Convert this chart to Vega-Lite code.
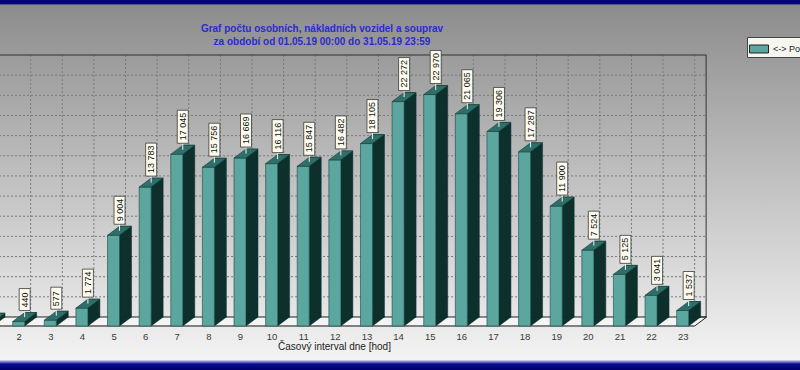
{
  "$schema": "https://vega.github.io/schema/vega-lite/v6.json",
  "width": 800,
  "height": 370,
  "autosize": "none",
  "padding": 0,
  "config": {
    "locale": {"number": {"decimal": ",", "thousands": " ", "grouping": [3], "currency": ["", " Kč"]}},
    "axisX": {
      "domain": false,
      "ticks": false,
      "grid": false,
      "labelOffset": -12,
      "offset": -41,
      "labelPadding": 2,
      "labelFlush": false,
      "labelOverlap": false,
      "labelFont": "Liberation Sans",
      "labelFontSize": 9.5,
      "labelColor": "#3a3a3a",
      "titleFont": "Liberation Sans",
      "titleFontSize": 10,
      "titleFontWeight": "normal",
      "titleColor": "#222222",
      "titlePadding": 1,
      "titleX": 334
    },
    "view": {
      "stroke": null,
      "fill": {
        "gradient": "linear", "x1": 0, "y1": 0, "x2": 0, "y2": 1,
        "stops": [
          {"offset": 0, "color": "#05057a"},
          {"offset": 0.011, "color": "#05057a"},
          {"offset": 0.013, "color": "#8a8a8e"},
          {"offset": 0.03, "color": "#8e8e8e"},
          {"offset": 0.5, "color": "#c2c2c2"},
          {"offset": 0.972, "color": "#f3f3f3"},
          {"offset": 0.977, "color": "#8c8cd8"},
          {"offset": 0.984, "color": "#0a0a8c"},
          {"offset": 1, "color": "#000070"}
        ]
      }
    }
  },
  "title": {
    "text": ["Graf počtu osobních, nákladních vozidel a souprav", "za období od 01.05.19 00:00 do 31.05.19 23:59"],
    "anchor": "middle",
    "frame": "group",
    "offset": -47,
    "dx": -78,
    "font": "Liberation Sans",
    "fontSize": 10,
    "fontWeight": "bold",
    "color": "#2b2bd0",
    "lineHeight": 13
  },
  "datasets": {
    "bars": [
      {"hour": 1, "v": 380},
      {"hour": 2, "v": 440},
      {"hour": 3, "v": 577},
      {"hour": 4, "v": 1774},
      {"hour": 5, "v": 9004},
      {"hour": 6, "v": 13783},
      {"hour": 7, "v": 17045},
      {"hour": 8, "v": 15756},
      {"hour": 9, "v": 16669},
      {"hour": 10, "v": 16116},
      {"hour": 11, "v": 15847},
      {"hour": 12, "v": 16482},
      {"hour": 13, "v": 18105},
      {"hour": 14, "v": 22272},
      {"hour": 15, "v": 22970},
      {"hour": 16, "v": 21065},
      {"hour": 17, "v": 19306},
      {"hour": 18, "v": 17287},
      {"hour": 19, "v": 11900},
      {"hour": 20, "v": 7524},
      {"hour": 21, "v": 5125},
      {"hour": 22, "v": 3041},
      {"hour": 23, "v": 1537}
    ],
    "grid": [
      {"g": 2000}, {"g": 4000}, {"g": 6000}, {"g": 8000}, {"g": 10000}, {"g": 12000},
      {"g": 14000}, {"g": 16000}, {"g": 18000}, {"g": 20000}, {"g": 22000}, {"g": 24000}
    ],
    "one": [{"k": 1}]
  },
  "data": {"name": "bars"},
  "layer": [
    {
      "data": {"name": "grid"},
      "mark": {"type": "rule", "stroke": "#7a7a7a", "strokeDash": [2, 2], "strokeWidth": 1},
      "encoding": {
        "x": {"datum": 1.0, "type": "quantitative", "axis": {"values": [1, 2, 3, 4, 5, 6, 7, 8, 9, 10, 11, 12, 13, 14, 15, 16, 17, 18, 19, 20, 21, 22, 23]}},
        "x2": {"datum": 23.362},
        "y": {"field": "g", "type": "quantitative", "axis": null, "scale": {"domain": [-5260, 31458], "nice": false, "zero": false}}
      }
    },
    {
      "mark": {"type": "rule", "stroke": "#7a7a7a", "strokeDash": [2, 2], "strokeWidth": 1},
      "encoding": {
        "x": {"field": "hour", "type": "quantitative", "axis": {"values": [1, 2, 3, 4, 5, 6, 7, 8, 9, 10, 11, 12, 13, 14, 15, 16, 17, 18, 19, 20, 21, 22, 23]}},
        "y": {"datum": 0, "type": "quantitative", "axis": null},
        "y2": {"datum": 26000}
      }
    },
    {
      "data": {"name": "one"},
      "mark": {"type": "rule", "stroke": "#333333", "strokeWidth": 1},
      "encoding": {
        "x": {"datum": 1.0, "type": "quantitative", "axis": {"values": [1, 2, 3, 4, 5, 6, 7, 8, 9, 10, 11, 12, 13, 14, 15, 16, 17, 18, 19, 20, 21, 22, 23]}},
        "x2": {"datum": 23.362},
        "y": {"datum": 26000, "type": "quantitative", "axis": null}
      }
    },
    {
      "data": {"name": "one"},
      "mark": {"type": "rule", "stroke": "#333333", "strokeWidth": 1},
      "encoding": {
        "x": {"datum": 23.362, "type": "quantitative", "axis": {"values": [1, 2, 3, 4, 5, 6, 7, 8, 9, 10, 11, 12, 13, 14, 15, 16, 17, 18, 19, 20, 21, 22, 23]}},
        "y": {"datum": 0, "type": "quantitative", "axis": null},
        "y2": {"datum": 26000}
      }
    },
    {
      "data": {"name": "one"},
      "mark": {"type": "rule", "stroke": "#f4f4f4", "strokeWidth": 9, "yOffset": 4.5, "strokeCap": "butt"},
      "encoding": {
        "x": {"datum": 1.0, "type": "quantitative", "axis": {"values": [1, 2, 3, 4, 5, 6, 7, 8, 9, 10, 11, 12, 13, 14, 15, 16, 17, 18, 19, 20, 21, 22, 23]}},
        "x2": {"datum": 23.0},
        "y": {"datum": 0, "type": "quantitative", "axis": null}
      }
    },
    {
      "data": {"name": "one"},
      "mark": {"type": "point", "shape": "M0,9L12,0L0,0", "size": 4, "filled": true, "fill": "#f4f4f4", "stroke": "#222222", "strokeWidth": 1, "opacity": 1},
      "encoding": {
        "x": {"datum": 23.0, "type": "quantitative", "axis": {"values": [1, 2, 3, 4, 5, 6, 7, 8, 9, 10, 11, 12, 13, 14, 15, 16, 17, 18, 19, 20, 21, 22, 23]}},
        "y": {"datum": 0, "type": "quantitative", "axis": null}
      }
    },
    {
      "data": {"name": "one"},
      "mark": {"type": "rule", "stroke": "#222222", "strokeWidth": 1},
      "encoding": {
        "x": {"datum": 1.0, "type": "quantitative", "axis": {"values": [1, 2, 3, 4, 5, 6, 7, 8, 9, 10, 11, 12, 13, 14, 15, 16, 17, 18, 19, 20, 21, 22, 23]}},
        "x2": {"datum": 23.362},
        "y": {"datum": 0, "type": "quantitative", "axis": null}
      }
    },
    {
      "data": {"name": "one"},
      "mark": {"type": "rule", "stroke": "#111111", "strokeWidth": 1, "yOffset": 9},
      "encoding": {
        "x": {"datum": 1.0, "type": "quantitative", "axis": {"values": [1, 2, 3, 4, 5, 6, 7, 8, 9, 10, 11, 12, 13, 14, 15, 16, 17, 18, 19, 20, 21, 22, 23]}},
        "x2": {"datum": 23.0},
        "y": {"datum": 0, "type": "quantitative", "axis": null}
      }
    },
    {
      "mark": {"type": "bar", "orient": "vertical", "size": 12, "fill": "#0d302c", "stroke": "#0d302c", "strokeWidth": 0.5},
      "encoding": {
        "x": {"field": "hour", "type": "quantitative", "axis": {"values": [1, 2, 3, 4, 5, 6, 7, 8, 9, 10, 11, 12, 13, 14, 15, 16, 17, 18, 19, 20, 21, 22, 23]}},
        "y": {"field": "v", "type": "quantitative", "axis": null},
        "y2": {"datum": 0}
      }
    },
    {
      "mark": {"type": "point", "shape": "M-6,0L-6,9L6,0Z", "size": 4, "filled": true, "fill": "#0d302c", "stroke": "#0d302c", "strokeWidth": 0.5, "opacity": 1},
      "encoding": {
        "x": {"field": "hour", "type": "quantitative", "axis": {"values": [1, 2, 3, 4, 5, 6, 7, 8, 9, 10, 11, 12, 13, 14, 15, 16, 17, 18, 19, 20, 21, 22, 23]}},
        "y": {"datum": 0, "type": "quantitative", "axis": null}
      }
    },
    {
      "mark": {"type": "bar", "orient": "vertical", "size": 12, "xOffset": -12, "yOffset": 9, "y2Offset": 9, "stroke": "#1a4541", "strokeWidth": 0.6},
      "encoding": {
        "x": {
          "field": "hour",
          "type": "quantitative",
          "title": "Časový interval dne [hod]",
          "scale": {"domain": [1.1883, 26.173], "nice": false, "zero": false},
          "axis": {"values": [1, 2, 3, 4, 5, 6, 7, 8, 9, 10, 11, 12, 13, 14, 15, 16, 17, 18, 19, 20, 21, 22, 23]}
        },
        "y": {"field": "v", "type": "quantitative", "axis": null},
        "y2": {"datum": 0},
        "color": {
          "datum": "<-> Počet vozidel",
          "scale": {"range": ["#5ba69f"]},
          "legend": {
            "orient": "none",
            "legendX": 747,
            "legendY": 37,
            "title": null,
            "fillColor": "#f6f6f1",
            "strokeColor": "#444444",
            "padding": 2,
            "symbolType": "M-1,-0.42H1V0.42H-1Z",
            "symbolSize": 361,
            "symbolStrokeColor": "#222222",
            "symbolStrokeWidth": 1,
            "labelFont": "Liberation Sans",
            "labelFontSize": 9,
            "labelColor": "#222222"
          }
        }
      }
    },
    {
      "mark": {"type": "point", "shape": "M-18,9L-6,9L6,0L-6,0Z", "size": 4, "filled": true, "fill": "#2f6f69", "stroke": "#173f3b", "strokeWidth": 0.6, "opacity": 1},
      "encoding": {
        "x": {"field": "hour", "type": "quantitative", "axis": {"values": [1, 2, 3, 4, 5, 6, 7, 8, 9, 10, 11, 12, 13, 14, 15, 16, 17, 18, 19, 20, 21, 22, 23]}},
        "y": {"field": "v", "type": "quantitative", "axis": null}
      }
    },
    {
      "transform": [{"filter": "datum.hour >= 2"}],
      "mark": {"type": "point", "shape": "M0,0L0,-6.5", "size": 4, "filled": false, "stroke": "#f2f2f2", "strokeWidth": 1, "xOffset": -6, "yOffset": 4.5, "opacity": 1},
      "encoding": {
        "x": {"field": "hour", "type": "quantitative", "axis": {"values": [1, 2, 3, 4, 5, 6, 7, 8, 9, 10, 11, 12, 13, 14, 15, 16, 17, 18, 19, 20, 21, 22, 23]}},
        "y": {"field": "v", "type": "quantitative", "axis": null}
      }
    },
    {
      "transform": [{"filter": "datum.hour >= 2"}],
      "mark": {"type": "point", "size": 4, "filled": true, "fill": "#fbfbee", "stroke": "#3a3a3a", "strokeWidth": 0.8, "xOffset": -6, "yOffset": -2, "opacity": 1},
      "encoding": {
        "x": {"field": "hour", "type": "quantitative", "axis": {"values": [1, 2, 3, 4, 5, 6, 7, 8, 9, 10, 11, 12, 13, 14, 15, 16, 17, 18, 19, 20, 21, 22, 23]}},
        "y": {"field": "v", "type": "quantitative", "axis": null},
        "shape": {
          "condition": [
            {"test": "datum.v < 1000", "value": "M-5.5,0H5.5V-22H-5.5Z"},
            {"test": "datum.v < 10000", "value": "M-5.5,0H5.5V-28H-5.5Z"}
          ],
          "value": "M-5.5,0H5.5V-33H-5.5Z"
        }
      }
    },
    {
      "transform": [{"filter": "datum.hour >= 2"}],
      "mark": {"type": "text", "angle": 270, "align": "left", "baseline": "middle", "xOffset": -6, "yOffset": -5, "font": "Liberation Sans", "fontSize": 9, "fill": "#111111"},
      "encoding": {
        "x": {"field": "hour", "type": "quantitative", "axis": {"values": [1, 2, 3, 4, 5, 6, 7, 8, 9, 10, 11, 12, 13, 14, 15, 16, 17, 18, 19, 20, 21, 22, 23]}},
        "y": {"field": "v", "type": "quantitative", "axis": null},
        "text": {"field": "v", "type": "quantitative", "format": ",d"}
      }
    }
  ]
}
